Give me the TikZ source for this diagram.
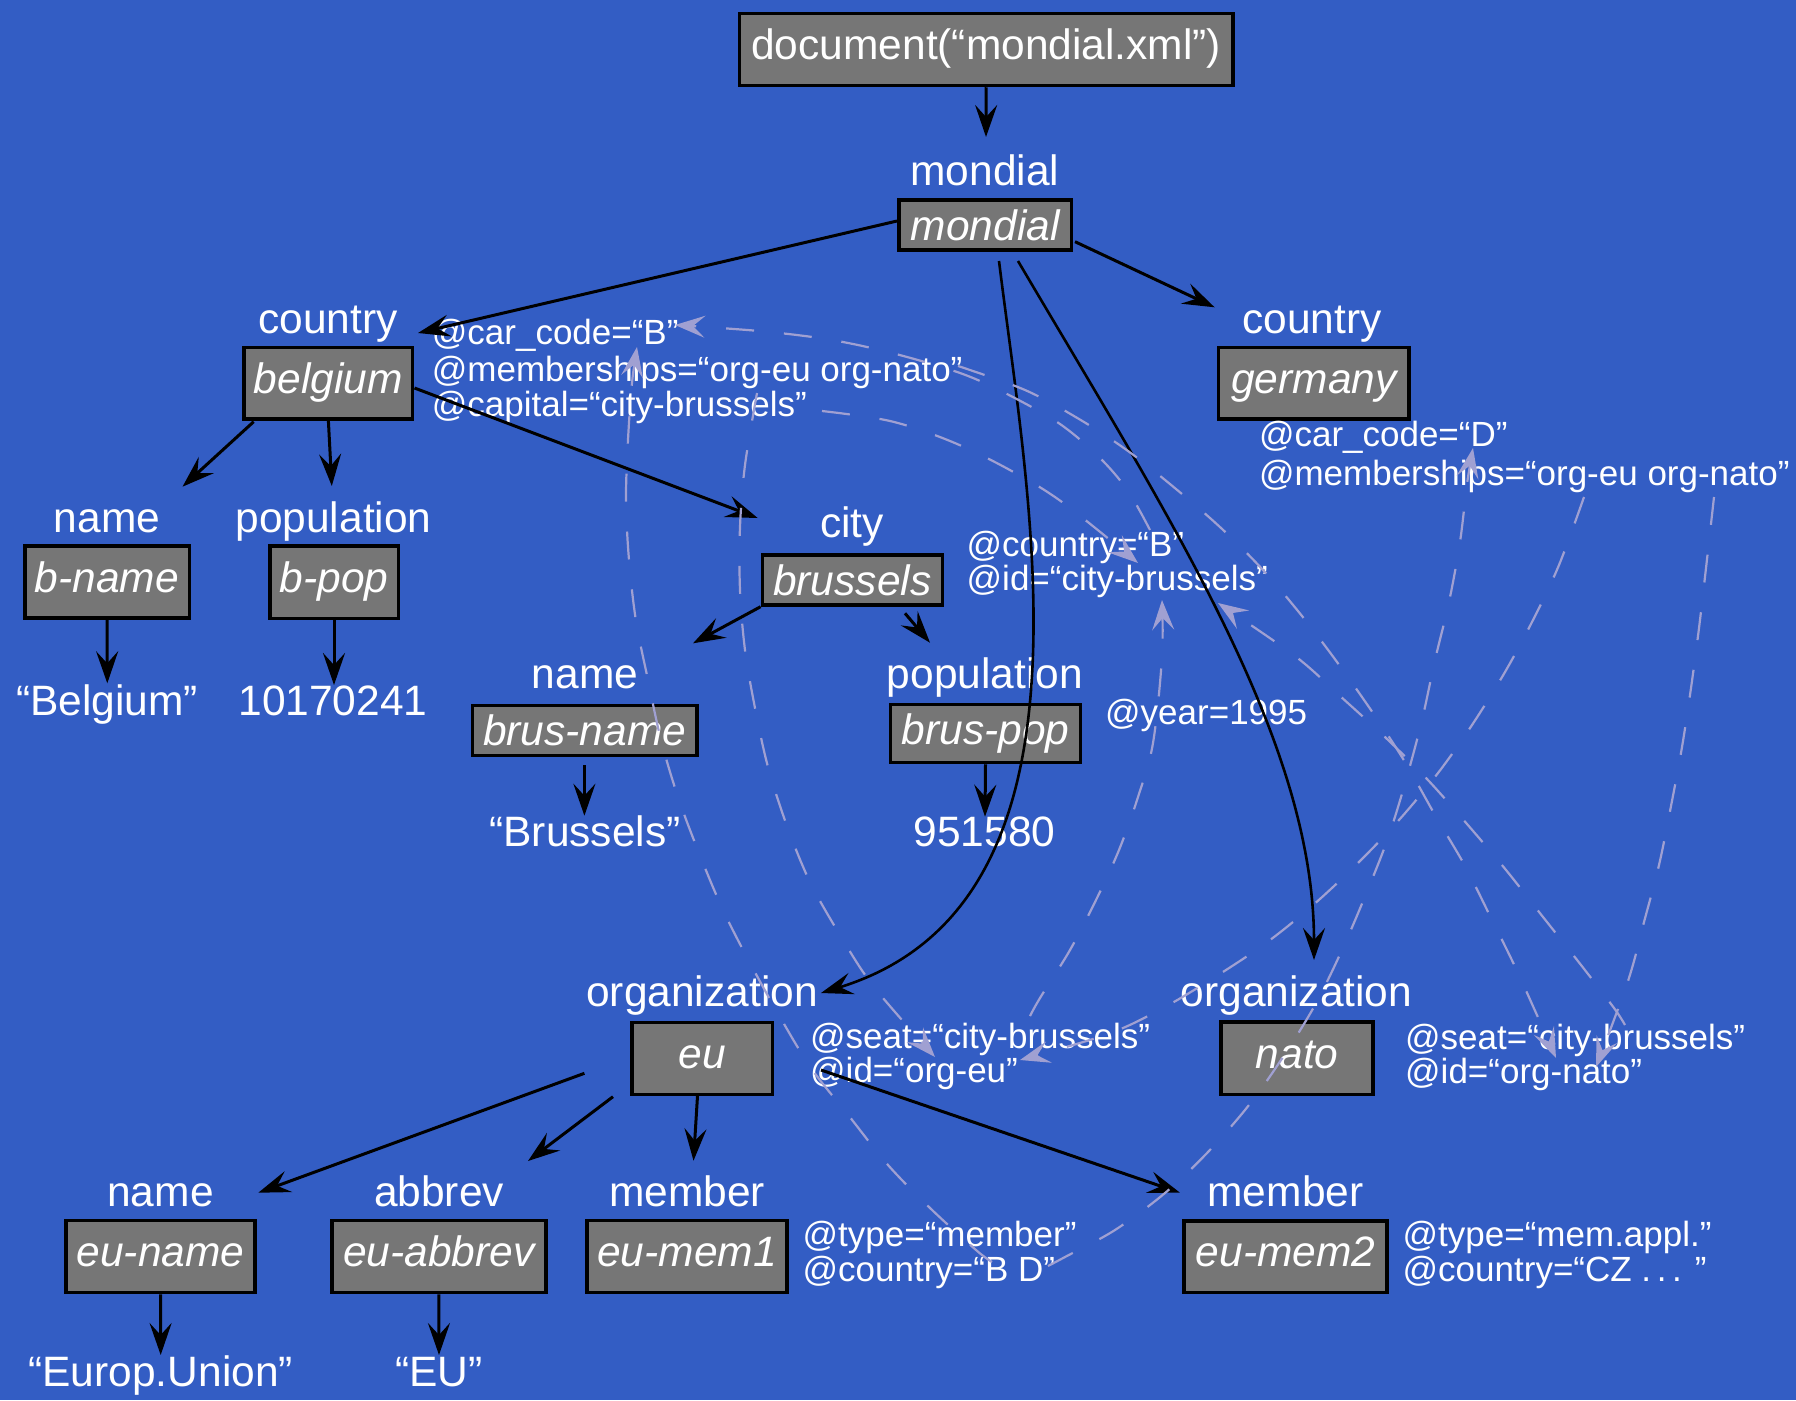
\documentclass[tikz,border=0pt]{standalone}
\usepackage{fontspec}
\setmainfont{Liberation Sans}
\usetikzlibrary{arrows.meta}
\definecolor{bgblue}{RGB}{51,93,196}
\definecolor{boxgray}{RGB}{118,118,118}
\definecolor{linkcol}{RGB}{160,160,210}
\newcommand{\lblfont}{\fontsize{42.5}{42.5}\selectfont}
\newcommand{\attrfont}{\fontsize{35}{35}\selectfont}
\tikzset{
  elem/.style={draw=black, line width=3.5pt, fill=boxgray, text=white, inner sep=0pt, font=\lblfont\itshape},
  bigelem/.style={elem, text height=31pt, text depth=11pt},
  lbl/.style={text=white, inner sep=0pt, anchor=base, font=\lblfont},
  attr/.style={text=white, inner sep=0pt, anchor=base west, font=\attrfont},
  arr/.style={draw=black, line width=3pt, -{Stealth[length=32pt,width=22pt,inset=12pt]}},
  curvearr/.style={arr, line width=2.6pt},
  link/.style={draw=linkcol, line width=2.2pt, dash pattern=on 28pt off 30pt, -{Stealth[length=30pt,width=22pt,inset=12pt]}},
}
\begin{document}
\begin{tikzpicture}[x=1pt,y=-1pt]
\fill[bgblue] (0,0) rectangle (1796,1400);
\useasboundingbox (0,0) rectangle (1796,1400);

% ---------- element boxes ----------
\node[bigelem, font=\lblfont, minimum width=493.5pt, minimum height=72pt] (doc) at (986.2,49.5) {document(“mondial.xml”)};
\node[elem, minimum width=172.5pt, minimum height=50pt] (mondial) at (985.2,224.9) {mondial};
\node[bigelem, minimum width=168.5pt, minimum height=71.5pt] (belgium) at (328.4,383.4) {belgium};
\node[bigelem, minimum width=190.5pt, minimum height=71.5pt] (germany) at (1313.9,383.2) {germany};
\node[bigelem, minimum width=164.5pt, minimum height=72pt] (bname) at (107,582.2) {b-name};
\node[bigelem, minimum width=128.5pt, minimum height=72.5pt] (bpop) at (334,582) {b-pop};
\node[elem, minimum width=180pt, minimum height=50pt] (brussels) at (852.3,579.9) {brussels};
\node[elem, minimum width=224.5pt, minimum height=50pt] (brusname) at (584.6,730.7) {brus-name};
\node[elem, minimum width=190pt, minimum height=58pt] (bruspop) at (985.5,733.5) {brus-pop};
\node[bigelem, minimum width=140.5pt, minimum height=72pt] (eu) at (702,1058.3) {eu};
\node[bigelem, minimum width=152pt, minimum height=72.5pt] (nato) at (1297.2,1058) {nato};
\node[bigelem, minimum width=189pt, minimum height=72pt] (euname) at (160.5,1256.6) {eu-name};
\node[bigelem, minimum width=214pt, minimum height=72pt] (euabbrev) at (438.9,1256.6) {eu-abbrev};
\node[bigelem, minimum width=200pt, minimum height=72pt] (eumem1) at (687.1,1256.6) {eu-mem1};
\node[bigelem, minimum width=203pt, minimum height=71.5pt] (eumem2) at (1285.7,1256.5) {eu-mem2};

% ---------- element names ----------
\node[lbl] (l-mondial) at (985,185) {mondial};
\node[lbl] (l-belgium) at (328,333) {country};
\node[lbl] (l-germany) at (1312,333) {country};
\node[lbl] (l-bname) at (107,532) {name};
\node[lbl] (l-bpop) at (333.5,532) {population};
\node[lbl] (l-brussels) at (852,537.5) {city};
\node[lbl] (l-brusname) at (585,688.5) {name};
\node[lbl] (l-bruspop) at (985,688.5) {population};
\node[lbl] (l-eu) at (702,1006.5) {organization};
\node[lbl] (l-nato) at (1296.5,1006.5) {organization};
\node[lbl] (l-euname) at (160.5,1206) {name};
\node[lbl] (l-euabbrev) at (439,1206) {abbrev};
\node[lbl] (l-eumem1) at (687,1206) {member};
\node[lbl] (l-eumem2) at (1285.5,1206) {member};

% ---------- text values ----------
\node[lbl] (t-belgium) at (107,715) {“Belgium”};
\node[lbl] (t-bpop) at (333,715) {10170241};
\node[lbl] (t-brussels) at (585,846.7) {“Brussels”};
\node[lbl] (t-bruspop) at (984.5,846.7) {951580};
\node[lbl] (t-euname) at (160.7,1386.7) {“Europ.Union”};
\node[lbl] (t-euabbrev) at (439,1386.7) {“EU”};

% ---------- attributes ----------
\node[attr] (a-bel1) at (431.7,344.3) {@car\_code=“B”};
\node[attr] (a-bel2) at (431.7,381.7) {@memberships=“org-eu org-nato”};
\node[attr] (a-bel3) at (431.7,416.7) {@capital=“city-brussels”};
\node[attr] (a-ger1) at (1258.8,446.5) {@car\_code=“D”};
\node[attr] (a-ger2) at (1258.8,485) {@memberships=“org-eu org-nato”};
\node[attr] (a-cit1) at (966.5,556.5) {@country=“B”};
\node[attr] (a-cit2) at (966.5,590.5) {@id=“city-brussels”};
\node[attr] (a-pop1) at (1105,724) {@year=1995};
\node[attr] (a-eu1) at (810,1048.5) {@seat=“city-brussels”};
\node[attr] (a-eu2) at (810,1082.7) {@id=“org-eu”};
\node[attr] (a-nat1) at (1405,1049) {@seat=“city-brussels”};
\node[attr] (a-nat2) at (1405,1083) {@id=“org-nato”};
\node[attr] (a-m11) at (802.5,1246.7) {@type=“member”};
\node[attr] (a-m12) at (802.5,1281.7) {@country=“B D”};
\node[attr] (a-m21) at (1402.5,1246.7) {@type=“mem.appl.”};
\node[attr] (a-m22) at (1402.5,1281.7) {@country=“CZ .\hspace{0.16em}.\hspace{0.16em}. ”};

% ---------- connector end points ----------
\coordinate (mondial-in) at (986,137);
\coordinate (mon-w) at (897,221);
\coordinate (bel-in) at (418,333);
\coordinate (mon-e) at (1075,241.7);
\coordinate (ger-in) at (1214.6,307.3);
\coordinate (mon-s1) at (999,261);
\coordinate (eu-in) at (821,993);
\coordinate (mon-s2) at (1018,261);
\coordinate (nato-in) at (1314,960);
\coordinate (bel-e) at (414.5,388);
\coordinate (city-in) at (757.7,518);
\coordinate (bel-sw) at (253.7,421.7);
\coordinate (bname-in) at (182.5,486.7);
\coordinate (bpop-in) at (331.8,486);
\coordinate (bname-val) at (107.3,683.3);
\coordinate (bpop-val) at (334,685);
\coordinate (bru-sw) at (760.6,606.7);
\coordinate (brusname-in) at (693,643.3);
\coordinate (bru-se) at (905,613.3);
\coordinate (bruspop-in) at (930,642.7);
\coordinate (brusname-out) at (584.4,765);
\coordinate (brusname-val) at (584.4,815.7);
\coordinate (bruspop-val) at (985,816.7);
\coordinate (eu-w) at (584.4,1073.3);
\coordinate (euname-in) at (258.3,1192.7);
\coordinate (eu-sw) at (613,1096.7);
\coordinate (euabbrev-in) at (528,1161);
\coordinate (eu-s) at (697.5,1096);
\coordinate (eumem1-in) at (693.5,1160.7);
\coordinate (eu-e) at (821,1070);
\coordinate (eumem2-in) at (1180,1192.7);
\coordinate (euname-val) at (160.7,1355);
\coordinate (euabbrev-val) at (439,1355);

% ---------- tree edges ----------
\draw[arr] (doc.south) -- (mondial-in);
\draw[arr] (mon-w) -- (bel-in);
\draw[arr] (mon-e) -- (ger-in);
\draw[curvearr] (mon-s1) .. controls (1029.5,509) and (1108,905) .. (eu-in);
\draw[curvearr] (mon-s2) .. controls (1170.4,519.6) and (1314,740) .. (nato-in);
\draw[arr] (bel-e) -- (city-in);
\draw[arr] (bel-sw) -- (bname-in);
\draw[arr] (belgium.south) -- (bpop-in);
\draw[arr] (bname.south) -- (bname-val);
\draw[arr] (bpop.south) -- (bpop-val);
\draw[arr] (bru-sw) -- (brusname-in);
\draw[arr] (bru-se) -- (bruspop-in);
\draw[arr] (brusname-out) -- (brusname-val);
\draw[arr] (bruspop.south) -- (bruspop-val);
\draw[arr] (eu-w) -- (euname-in);
\draw[arr] (eu-sw) -- (euabbrev-in);
\draw[arr] (eu-s) -- (eumem1-in);
\draw[arr] (eu-e) -- (eumem2-in);
\draw[arr] (euname.south) -- (euname-val);
\draw[arr] (euabbrev.south) -- (euabbrev-val);

% ---------- reference links ----------
\coordinate (capital-src) at (822,411);
\coordinate (cityid-1) at (1138,563);
\coordinate (citycountry-src) at (1150,530);
\coordinate (carB-1) at (675,325);
\coordinate (belnato-src) at (958,366);
\coordinate (natoid-1) at (1556,1058);
\coordinate (m1B-src) at (992,1262);
\coordinate (carB-2) at (637,347);
\coordinate (m1D-src) at (1048,1266);
\coordinate (carD) at (1473,448);
\coordinate (gereu-src) at (1584,497);
\coordinate (euid-1) at (1020,1060);
\coordinate (gernato-src) at (1714,497);
\coordinate (natoid-2) at (1596,1067);
\coordinate (beleu-src) at (757,393);
\coordinate (euid-2) at (935,1057);
\coordinate (euseat-src) at (1030,1016);
\coordinate (cityid-2) at (1162,600);
\coordinate (natoseat-src) at (1625,1025);
\coordinate (cityid-3) at (1218,603);

\draw[link] plot[smooth, tension=0.55] coordinates {(capital-src) (890,421) (950,441) (1008,469) (1062,502) (cityid-1)};
\draw[link] plot[smooth, tension=0.55] coordinates {(citycountry-src) (1128,491) (1100,458) (1060,424) (1007,394) (960,373) (892,353) (832,340) (770,332) (706,327) (carB-1)};
\draw[link] plot[smooth, tension=0.55] coordinates {(belnato-src) (1025,390) (1079,419) (1128,451) (1176,489) (1221,528) (1263,570) (1302,616) (1337,662) (1373,713) (1405,762) (1435,815) (1465,866) (1492,920) (1518,973) (natoid-1)};
\draw[link] plot[smooth, tension=0.55] coordinates {(m1B-src) (976,1250) (930,1208) (888,1165) (849,1116) (811,1068) (780,1017) (750,963) (723,910) (699,853) (678,797) (661,740) (648,680) (636,621) (629,560) (626,500) (628,440) (632,383) (carB-2)};
\draw[link] plot[smooth, tension=0.55] coordinates {(m1D-src) (1065,1257) (1115,1230) (1165,1193) (1208,1152) (1249,1105) (1283,1057) (1315,1005) (1342,950) (1366,894) (1388,838) (1406,780) (1422,720) (1435,660) (1449,602) (1460,542) (1467,484) (carD)};
\draw[link] plot[smooth, tension=0.55] coordinates {(gereu-src) (1559,565) (1533,620) (1505,672) (1472,725) (1438,773) (1399,820) (1357,864) (1312,906) (1266,943) (1215,977) (1163,1008) (1108,1034) (euid-1)};
\draw[link] plot[smooth, tension=0.55] coordinates {(gernato-src) (1706,568) (1699,628) (1691,688) (1682,747) (1671,806) (1659,865) (1644,922) (1628,981) (natoid-2)};
\draw[link] plot[smooth, tension=0.55] coordinates {(beleu-src) (745,465) (740,527) (740,590) (745,650) (755,708) (768,767) (787,826) (810,882) (840,935) (874,987) (euid-2)};
\draw[link] plot[smooth, tension=0.55] coordinates {(euseat-src) (1040,998) (1070,950) (1096,900) (1119,850) (1138,797) (1153,743) (1162,657) (cityid-2)};
\draw[link] plot[smooth, tension=0.55] coordinates {(natoseat-src) (1614,1008) (1581,965) (1543,917) (1506,870) (1467,824) (1427,779) (1386,738) (1340,696) (1295,656) (cityid-3)};
\end{tikzpicture}
\end{document}
